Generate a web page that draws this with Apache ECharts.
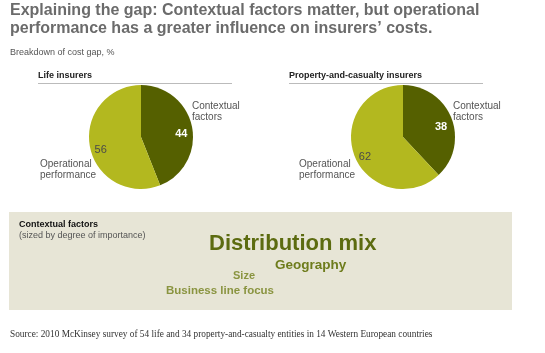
<!DOCTYPE html>
<html>
<head>
<meta charset="utf-8">
<script src="https://cdn.jsdelivr.net/npm/echarts@6/dist/echarts.min.js"></script>
<style>
html,body{margin:0;padding:0;background:#fff;}
#main{width:545px;height:353px;}
</style>
</head>
<body>
<div id="main"></div>
<script>
// data
var categories = ['Contextual factors', 'Operational performance'];
var lifeValues = [44, 56];
var pcValues = [38, 62];
var panelTitles = ['Life insurers', 'Property-and-casualty insurers'];
var factorNames = ['Distribution mix', 'Geography', 'Size', 'Business line focus'];
var factorSizes = [22, 13.5, 11, 11.5];

var darkOlive = '#556000';
var lightOlive = '#b3b81f';
var sans = 'Liberation Sans, Arial, sans-serif';

function pieSeries(values, cx) {
    var data = [], labelData = [];
    for (var i = 0; i < values.length; i++) {
        data.push({
            name: categories[i],
            value: values[i],
            itemStyle: {color: i == 0 ? darkOlive : lightOlive}
        });
        labelData.push({
            name: categories[i],
            value: values[i],
            label: i == 0 ? {color: '#fff', fontWeight: 'bold'} : {color: '#4a4a4a'}
        });
    }
    return [{
        type: 'pie',
        center: [cx, 137],
        radius: [0, 52],
        startAngle: 90,
        clockwise: true,
        silent: true,
        label: {show: false},
        labelLine: {show: false},
        data: data
    }, {
        // transparent overlay only for placing the value labels
        type: 'pie',
        center: [cx, 142],
        radius: [0, 76],
        startAngle: 90,
        clockwise: true,
        silent: true,
        itemStyle: {color: 'rgba(0,0,0,0)', borderWidth: 0},
        label: {show: true, position: 'inside', formatter: '{c}', fontFamily: sans, fontSize: 11},
        labelLine: {show: false},
        data: labelData
    }];
}

function catLabel(text, x, y) {
    return {
        type: 'text', left: x, top: y,
        style: {text: text.replace(' ', '\n'), fill: '#555', font: '10px ' + sans, lineHeight: 11}
    };
}

var graphics = [
    {type: 'text', left: 10, top: 2, style: {
        text: 'Explaining the gap: Contextual factors matter, but operational\nperformance has a greater influence on insurers\u2019 costs.',
        fill: '#6b6b6b', font: 'bold 16px ' + sans, lineHeight: 18}},
    {type: 'text', left: 10, top: 48, style: {text: 'Breakdown of cost gap, %', fill: '#555', font: '9px ' + sans}},
    {type: 'text', left: 38, top: 71, style: {text: panelTitles[0], fill: '#222', font: 'bold 9px ' + sans}},
    {type: 'line', shape: {x1: 38, y1: 83.5, x2: 232, y2: 83.5}, style: {stroke: '#bbb', lineWidth: 1}},
    {type: 'text', left: 289, top: 71, style: {text: panelTitles[1], fill: '#222', font: 'bold 9px ' + sans}},
    {type: 'line', shape: {x1: 289, y1: 83.5, x2: 483, y2: 83.5}, style: {stroke: '#bbb', lineWidth: 1}},
    catLabel(categories[0], 192, 101),
    catLabel(categories[1], 40, 159),
    catLabel(categories[0], 453, 101),
    catLabel(categories[1], 299, 159),
    {type: 'rect', shape: {x: 9, y: 212, width: 503, height: 98}, style: {fill: '#e7e5d6'}, z: -1},
    {type: 'text', left: 19, top: 220, style: {text: 'Contextual factors', fill: '#111', font: 'bold 9px ' + sans}},
    {type: 'text', left: 19, top: 231, style: {text: '(sized by degree of importance)', fill: '#555', font: '9px ' + sans}},
    {type: 'text', left: 209, top: 233, style: {text: factorNames[0], fill: '#5c6b10', font: 'bold ' + factorSizes[0] + 'px ' + sans}},
    {type: 'text', left: 275, top: 258, style: {text: factorNames[1], fill: '#6e7c1c', font: 'bold ' + factorSizes[1] + 'px ' + sans}},
    {type: 'text', left: 233, top: 270, style: {text: factorNames[2], fill: '#8a9440', font: 'bold ' + factorSizes[2] + 'px ' + sans}},
    {type: 'text', left: 166, top: 285, style: {text: factorNames[3], fill: '#8a9440', font: 'bold ' + factorSizes[3] + 'px ' + sans}},
    {type: 'text', left: 10, top: 330, style: {
        text: 'Source: 2010 McKinsey survey of 54 life and 34 property-and-casualty entities in 14 Western European countries',
        fill: '#333', font: '9.3px Liberation Serif, serif'}}
];

var myChart = echarts.init(document.getElementById('main'), null, {renderer: 'canvas'});
myChart.setOption({
    animation: false,
    backgroundColor: '#fff',
    graphic: graphics,
    series: pieSeries(lifeValues, 141).concat(pieSeries(pcValues, 403))
});
</script>
</body>
</html>
